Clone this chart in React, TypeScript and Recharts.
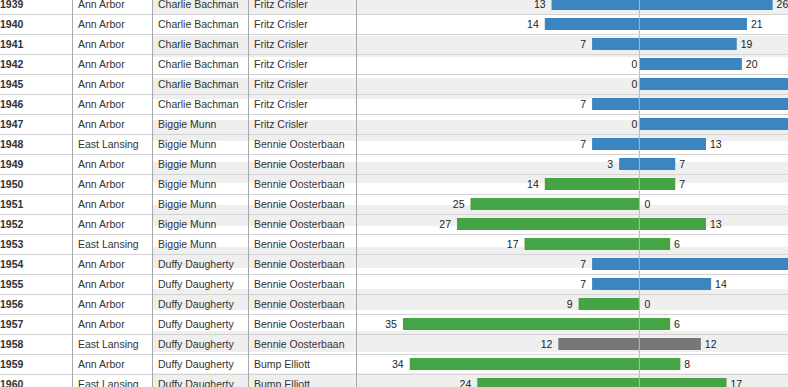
import React from "react";
import {
  BarChart,
  Bar,
  XAxis,
  YAxis,
  CartesianGrid,
  Cell,
  LabelList,
  ReferenceLine,
} from "recharts";

// ---- data ----
const years = [
  "1939", "1940", "1941", "1942", "1945", "1946", "1947", "1948", "1949", "1950",
  "1951", "1952", "1953", "1954", "1955", "1956", "1957", "1958", "1959", "1960",
];
const locations = [
  "Ann Arbor", "Ann Arbor", "Ann Arbor", "Ann Arbor", "Ann Arbor", "Ann Arbor", "Ann Arbor",
  "East Lansing", "Ann Arbor", "Ann Arbor", "Ann Arbor", "Ann Arbor", "East Lansing",
  "Ann Arbor", "Ann Arbor", "Ann Arbor", "Ann Arbor", "East Lansing", "Ann Arbor", "East Lansing",
];
const msuCoaches = [
  "Charlie Bachman", "Charlie Bachman", "Charlie Bachman", "Charlie Bachman", "Charlie Bachman",
  "Charlie Bachman", "Biggie Munn", "Biggie Munn", "Biggie Munn", "Biggie Munn", "Biggie Munn",
  "Biggie Munn", "Biggie Munn", "Duffy Daugherty", "Duffy Daugherty", "Duffy Daugherty",
  "Duffy Daugherty", "Duffy Daugherty", "Duffy Daugherty", "Duffy Daugherty",
];
const michCoaches = [
  "Fritz Crisler", "Fritz Crisler", "Fritz Crisler", "Fritz Crisler", "Fritz Crisler",
  "Fritz Crisler", "Fritz Crisler", "Bennie Oosterbaan", "Bennie Oosterbaan", "Bennie Oosterbaan",
  "Bennie Oosterbaan", "Bennie Oosterbaan", "Bennie Oosterbaan", "Bennie Oosterbaan",
  "Bennie Oosterbaan", "Bennie Oosterbaan", "Bennie Oosterbaan", "Bennie Oosterbaan",
  "Bump Elliott", "Bump Elliott",
];
const msuScores = [13, 14, 7, 0, 0, 7, 0, 7, 3, 14, 25, 27, 17, 7, 7, 9, 35, 12, 34, 24];
const michScores = [26, 21, 19, 20, 40, 55, 55, 13, 7, 7, 0, 13, 6, 33, 14, 0, 6, 12, 8, 17];
const gridRows = Array.from({ length: years.length + 1 }, (_, i) => i);

// ---- styles ----
const FONT = '"Liberation Sans", Arial, Helvetica, sans-serif';
const BLUE = "#3b86c0";
const GREEN = "#45a444";
const GRAY = "#777777";
const STRIPE = "#efefef";
const H_LINE = "#d2d2d2";
const V_LINE = "#a9a9a9";
const ROW_H = 20;
const COL_LINES = [72.5, 152.5, 248.5, 356.5];

const rows = years.map((year, i) => ({
  year,
  location: locations[i],
  msuCoach: msuCoaches[i],
  michCoach: michCoaches[i],
  msu: msuScores[i],
  mich: michScores[i],
}));

const winColor = (r: { msu: number; mich: number }) =>
  r.mich > r.msu ? BLUE : r.msu > r.mich ? GREEN : GRAY;

const RowTick = (props: any) => {
  const { y, payload } = props;
  const cy = Number(y);
  const r = rows.find((d) => d.year === payload.value);
  if (!r) return null;
  const top = cy - ROW_H / 2;
  const bottom = cy + ROW_H / 2;
  const txt = { fontFamily: FONT, fontSize: 10.5, fill: "#333" };
  return (
    <g>
      <line x1={0} x2={788} y1={bottom + 0.5} y2={bottom + 0.5} stroke={H_LINE} strokeWidth={1} />
      {COL_LINES.map((cx) => (
        <line key={cx} x1={cx} x2={cx} y1={top} y2={bottom + 1} stroke={V_LINE} strokeWidth={1} />
      ))}
      <text x={0} y={cy} dy="0.355em" {...txt} fontWeight="bold">{r.year}</text>
      <text x={78} y={cy} dy="0.355em" {...txt}>{r.location}</text>
      <text x={158} y={cy} dy="0.355em" {...txt}>{r.msuCoach}</text>
      <text x={254} y={cy} dy="0.355em" {...txt}>{r.michCoach}</text>
    </g>
  );
};

const box = (p: any) => {
  const vb = p.viewBox && typeof p.viewBox.x === "number" ? p.viewBox : p;
  return { x: Number(vb.x), y: Number(vb.y), w: Number(vb.width) || 0, h: Number(vb.height) || 0 };
};

const LeftLabel = (p: any) => {
  const b = box(p);
  const left = Math.min(b.x, b.x + b.w);
  const gap = Number(p.value) === 0 ? 2 : 6;
  return (
    <text x={left - gap} y={b.y + b.h / 2} dy="0.355em" textAnchor="end"
      fontFamily={FONT} fontSize={10.5} fill="#222">
      {String(p.value)}
    </text>
  );
};

const RightLabel = (p: any) => {
  const b = box(p);
  const right = Math.max(b.x, b.x + b.w);
  const gap = Number(p.value) === 0 ? 5 : 4;
  return (
    <text x={right + gap} y={b.y + b.h / 2} dy="0.355em" textAnchor="start"
      fontFamily={FONT} fontSize={10.5} fill="#222">
      {String(p.value)}
    </text>
  );
};

export default function App() {
  return (
    <div style={{ position: "absolute", left: 0, top: 0, width: 788, height: 387, overflow: "hidden", background: "#fff" }}>
      <div style={{ position: "absolute", left: 0, top: -6 }}>
        <BarChart
          width={788}
          height={400}
          data={rows}
          layout="vertical"
          margin={{ top: 0, right: 0, bottom: 0, left: 0 }}
        >
          <CartesianGrid
            xAxisId="msu"
            yAxisId="grid"
            vertical={false}
            horizontal={true}
            stroke="none"
            horizontalFill={[STRIPE, "#ffffff"]}
          />
          <XAxis xAxisId="msu" type="number" hide reversed domain={[-22, 72]} allowDataOverflow />
          <XAxis xAxisId="mich" type="number" hide domain={[-94.9, 29]} allowDataOverflow />
          <YAxis
            yAxisId="a"
            type="category"
            dataKey="year"
            width={153}
            interval={0}
            tickLine={false}
            axisLine={false}
            tick={<RowTick />}
          />
          <YAxis yAxisId="b" type="category" dataKey="year" hide />
          <YAxis yAxisId="grid" type="number" hide domain={[0, years.length]} ticks={gridRows} interval={0} />
          <Bar xAxisId="msu" yAxisId="a" dataKey="msu" barSize={12} minPointSize={0.01} isAnimationActive={false}>
            {rows.map((r) => (
              <Cell key={r.year} fill={winColor(r)} />
            ))}
            <LabelList dataKey="msu" content={LeftLabel} />
          </Bar>
          <Bar xAxisId="mich" yAxisId="b" dataKey="mich" barSize={12} minPointSize={0.01} isAnimationActive={false}>
            {rows.map((r) => (
              <Cell key={r.year} fill={winColor(r)} />
            ))}
            <LabelList dataKey="mich" content={RightLabel} />
          </Bar>
          <ReferenceLine xAxisId="msu" yAxisId="a" x={0} stroke="#b4b4b4" strokeWidth={1} />
        </BarChart>
      </div>
    </div>
  );
}
